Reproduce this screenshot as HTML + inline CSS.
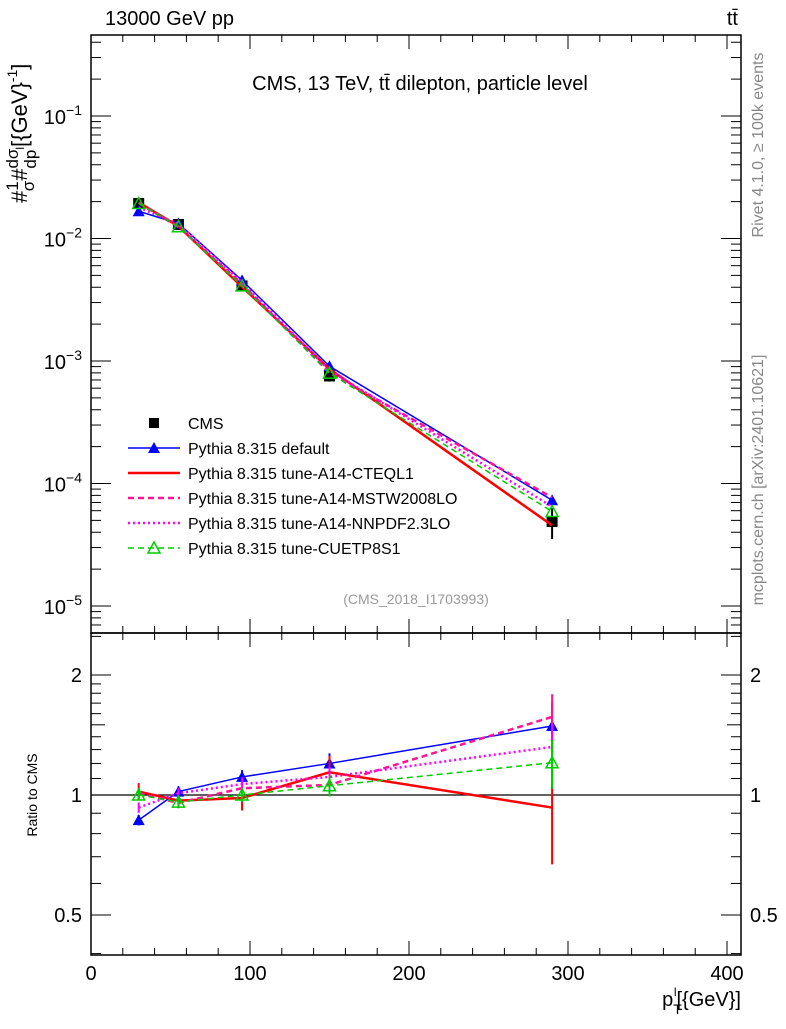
<!DOCTYPE html>
<html><head><meta charset="utf-8"><style>
html,body{margin:0;padding:0;background:#fff;}
svg text{font-family:"Liberation Sans",sans-serif;}
</style></head><body>
<svg id="chart" width="786" height="1024" xmlns="http://www.w3.org/2000/svg">
<text x="105" y="25" font-size="20">13000 GeV pp</text>
<text x="738" y="25" font-size="20" text-anchor="end">tt̄</text>
<text x="420" y="90" font-size="20" text-anchor="middle">CMS, 13 TeV, tt̄ dilepton, particle level</text>
<text x="416" y="604" font-size="14" fill="#999" text-anchor="middle">(CMS_2018_I1703993)</text>
<text transform="translate(763,145) rotate(-90)" font-size="16" fill="#888" text-anchor="middle">Rivet 4.1.0, ≥ 100k events</text>
<text transform="translate(763,480) rotate(-90)" font-size="16" fill="#888" text-anchor="middle">mcplots.cern.ch [arXiv:2401.10621]</text>
<text transform="translate(27,203) rotate(-90)" font-size="22">#<tspan font-size="17" dy="-9">1</tspan><tspan font-size="17" dx="-10" dy="16">σ</tspan><tspan dy="-7">#</tspan><tspan font-size="17" dy="-9">dσ</tspan><tspan font-size="17" dx="-20" dy="18">dp</tspan><tspan font-size="12" dy="-12">l</tspan><tspan dy="3">[{GeV}</tspan><tspan font-size="14" dy="-10">-1</tspan><tspan dy="10">]</tspan></text>
<text transform="translate(37,795) rotate(-90)" font-size="14" text-anchor="middle">Ratio to CMS</text>
<text x="741" y="1006" font-size="20" text-anchor="end">p<tspan font-size="14" dy="8">T</tspan><tspan font-size="12" dy="-18" dx="-8">l</tspan><tspan dy="10">[{GeV}]</tspan></text>
<g id="g-axes"></g>
<g id="g-ratio"></g>
<g id="g-main"></g>
<g id="g-legend"></g>
</svg>
<script>
const xs = [30, 55, 95, 150, 290];
const cmsVals = [0.0193, 0.0130, 0.0041, 0.000755, 0.000049];
const cmsRelErr = [0.05, 0.04, 0.07, 0.1, 0.28];
const ratioDefault = [0.865, 1.02, 1.11, 1.20, 1.49];
const ratioA14 = [1.02, 0.968, 0.983, 1.14, 0.93];
const ratioMSTW = [1.01, 0.955, 1.04, 1.06, 1.57];
const ratioNNPDF = [0.93, 1.01, 1.065, 1.11, 1.32];
const ratioCUETP8 = [1.0, 0.96, 1.0, 1.055, 1.205];
const modelRelErr = [0.03, 0.03, 0.04, 0.06, 0.14];
const xTicks = [0, 100, 200, 300, 400];
const yTickExp = [-5, -4, -3, -2, -1];
const ratioTicks = [0.5, 1, 2];

const NS = "http://www.w3.org/2000/svg";
const L = 91, R = 741, MT = 35, MB = 633, RB = 955;
const xS = v => L + v * 1.59;
const yM = v => 116 + (-1 - Math.log10(v)) * 122.5;
const yR = v => 795 - 398.6 * Math.log10(v);
function mk(tag, attrs, parent) {
  const e = document.createElementNS(NS, tag);
  for (const k in attrs) e.setAttribute(k, attrs[k]);
  parent.appendChild(e); return e;
}
const gA = document.getElementById('g-axes');
const gM = document.getElementById('g-main');
const gR = document.getElementById('g-ratio');
const gL = document.getElementById('g-legend');

let f1 = mk('rect', {x: L, y: MT, width: R - L, height: MB - MT, fill: 'none', stroke: '#000', 'stroke-width': 1.5}, gA);


let f2 = mk('rect', {x: L, y: MB, width: R - L, height: RB - MB, fill: 'none', stroke: '#000', 'stroke-width': 1.5}, gA);



for (let v = 0; v <= 408; v += 20) {
  const X = xS(v); const maj = v % 100 === 0; const len = maj ? 14 : 7;
  [MT, MB].forEach(t => mk('line', {x1: X, x2: X, y1: t, y2: t + len, stroke: '#000'}, gA));
  [MB, RB].forEach(b => mk('line', {x1: X, x2: X, y1: b, y2: b - len, stroke: '#000'}, gA));
}
xTicks.forEach(v => {
  const t = mk('text', {x: xS(v), y: 980, 'font-size': 20, 'text-anchor': 'middle'}, gA);
  t.textContent = v;
  
  
});
for (let e = -6; e <= -1; e++) {
  for (let m = 1; m <= 9; m++) {
    const v = m * Math.pow(10, e); const Y = yM(v);
    if (Y < MT || Y > MB) continue;
    const len = m === 1 ? 20 : 10;
    mk('line', {x1: L, x2: L + len, y1: Y, y2: Y, stroke: '#000'}, gA);
    mk('line', {x1: R, x2: R - len, y1: Y, y2: Y, stroke: '#000'}, gA);
  }
}
yTickExp.forEach(e => {
  const t = mk('text', {x: 82, y: yM(Math.pow(10, e)) + 8, 'font-size': 20, 'text-anchor': 'end'}, gA);
  t.innerHTML = '10<tspan font-size="14" dy="-9">' + (e < 0 ? '−' + (-e) : e) + '</tspan>';
  
  
});
const rMinor = [0.4, 0.5, 0.6, 0.7, 0.8, 0.9, 1, 1.1, 1.2, 1.3, 1.4, 1.5, 1.6, 1.7, 1.8, 1.9, 2, 2.5];
rMinor.forEach(v => {
  const Y = yR(v); if (Y < MB || Y > RB) return;
  const len = (v === 0.5 || v === 1 || v === 2) ? 20 : (v === 1.5 ? 14 : 10);
  mk('line', {x1: L, x2: L + len, y1: Y, y2: Y, stroke: '#000'}, gA);
  mk('line', {x1: R, x2: R - len, y1: Y, y2: Y, stroke: '#000'}, gA);
});
ratioTicks.forEach(v => {
  [[82, 'end'], [750, 'start']].forEach(([x, a]) => {
    const t = mk('text', {x: x, y: yR(v) + 7, 'font-size': 20, 'text-anchor': a}, gA);
    t.textContent = v;
    
    
  });
});
mk('line', {x1: L, x2: R, y1: yR(1), y2: yR(1), stroke: '#000', 'stroke-width': 1.2}, gR);

const series = [
  {name: 'Pythia 8.315 default', r: ratioDefault, color: '#0000ff', w: 1.5, dash: '', marker: 'tri'},
  {name: 'Pythia 8.315 tune-A14-CTEQL1', r: ratioA14, color: '#ff0000', w: 2.5, dash: '', marker: 'none'},
  {name: 'Pythia 8.315 tune-A14-MSTW2008LO', r: ratioMSTW, color: '#ff1493', w: 2.5, dash: '6,4', marker: 'none'},
  {name: 'Pythia 8.315 tune-A14-NNPDF2.3LO', r: ratioNNPDF, color: '#ff00ff', w: 2.5, dash: '2,3', marker: 'none'},
  {name: 'Pythia 8.315 tune-CUETP8S1', r: ratioCUETP8, color: '#00cc00', w: 1.5, dash: '6,4', marker: 'otri'}
];
function marker(kind, X, Y, color, g) {
  if (kind === 'tri') return mk('polygon', {points: `${X},${Y - 6} ${X - 6},${Y + 5} ${X + 6},${Y + 5}`, fill: color}, g);
  if (kind === 'otri') return mk('polygon', {points: `${X},${Y - 6} ${X - 6},${Y + 5} ${X + 6},${Y + 5}`, fill: 'none', stroke: color, 'stroke-width': 1.5}, g);
  return null;
}
xs.forEach((x, i) => {
  const X = xS(x), v = cmsVals[i];
  const b = mk('line', {x1: X, x2: X, y1: yM(v * (1 + cmsRelErr[i])), y2: yM(v * (1 - cmsRelErr[i])), stroke: '#000', 'stroke-width': 2}, gM);
  
  
  const s = mk('rect', {x: X - 5.5, y: yM(v) - 5.5, width: 11, height: 11, fill: '#000'}, gM);
  
  
});
series.forEach((s, si) => {
  const mainPts = xs.map((x, i) => xS(x) + ',' + yM(cmsVals[i] * s.r[i])).join(' ');
  const ratioPts = xs.map((x, i) => xS(x) + ',' + yR(s.r[i])).join(' ');
  const pl = mk('polyline', {points: mainPts, fill: 'none', stroke: s.color, 'stroke-width': s.w, 'stroke-dasharray': s.dash}, gM);
  
  
  const pr = mk('polyline', {points: ratioPts, fill: 'none', stroke: s.color, 'stroke-width': s.w, 'stroke-dasharray': s.dash}, gR);
  
  
  xs.forEach((x, i) => {
    const X = xS(x);
    const er = si === 1 ? cmsRelErr[i] : modelRelErr[i];
    const eb = mk('line', {x1: X, x2: X, y1: yR(s.r[i] * (1 + er)), y2: yR(s.r[i] * (1 - er)), stroke: s.color, 'stroke-width': 2}, gR);
    
    
    const m1 = marker(s.marker, X, yM(cmsVals[i] * s.r[i]), s.color, gM);
    if (m1) {   }
    const m2 = marker(s.marker, X, yR(s.r[i]), s.color, gR);
    if (m2) {   }
  });
});
const lg0 = mk('rect', {x: 149, y: 418, width: 10, height: 10, fill: '#000'}, gL);


const lt0 = mk('text', {x: 188, y: 429, 'font-size': 16}, gL);
lt0.textContent = 'CMS';


series.forEach((s, i) => {
  const Y = 448 + i * 25;
  const ln = mk('line', {x1: 128, x2: 180, y1: Y, y2: Y, stroke: s.color, 'stroke-width': s.w, 'stroke-dasharray': s.dash}, gL);
  
  
  marker(s.marker, 154, Y, s.color, gL);
  const t = mk('text', {x: 188, y: Y + 6, 'font-size': 16}, gL);
  t.textContent = s.name;
  
  
});
</script>
</body></html>
